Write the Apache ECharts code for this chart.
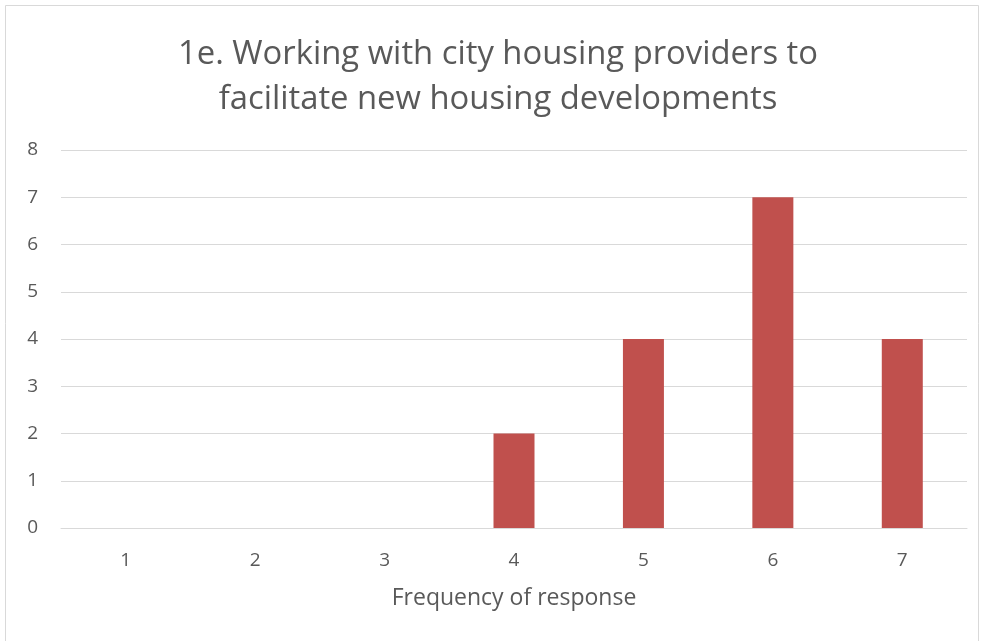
<!DOCTYPE html>
<html>
<head>
<meta charset="utf-8">
<script src="https://cdn.jsdelivr.net/npm/echarts@6/dist/echarts.min.js"></script>
<style>
  html, body { margin: 0; padding: 0; background: #fff; }
  #main { width: 982px; height: 641px; }
</style>
</head>
<body>
<div id="main"></div>
<script>
  // data
  var categories = ['1', '2', '3', '4', '5', '6', '7'];
  var counts = [0, 0, 0, 2, 4, 7, 4];
  var yTicks = [0, 8, 1]; // min, max, step

  var chart = echarts.init(document.getElementById('main'));

  chart.setOption({
    backgroundColor: '#fff',
    animation: false,
    title: {
      text: '1e. Working with city housing providers to\nfacilitate new housing developments',
      left: 498,
      textAlign: 'center',
      top: 32,
      padding: 0,
      textStyle: {
        fontFamily: 'Open Sans',
        fontWeight: 'normal',
        fontSize: 32.8,
        lineHeight: 45,
        color: '#595959'
      }
    },
    graphic: [{
      type: 'rect',
      shape: { x: 5.5, y: 5.5, width: 973, height: 640 },
      style: { fill: 'none', stroke: '#d9d9d9', lineWidth: 1 },
      silent: true
    }],
    grid: { left: 61, right: 15, top: 150, bottom: 113 },
    xAxis: {
      type: 'category',
      data: categories,
      name: 'Frequency of response',
      nameLocation: 'middle',
      nameGap: 59,
      nameTextStyle: { fontFamily: 'Open Sans', fontSize: 23, color: '#595959' },
      axisLine: { show: true, lineStyle: { color: '#d9d9d9', width: 1 } },
      axisTick: { show: false },
      axisLabel: { fontFamily: 'Open Sans', fontSize: 19, color: '#595959', margin: 23 }
    },
    yAxis: {
      type: 'value',
      min: yTicks[0],
      max: yTicks[1],
      interval: yTicks[2],
      axisLine: { show: false },
      axisTick: { show: false },
      axisLabel: { fontFamily: 'Open Sans', fontSize: 19, color: '#595959', margin: 23 },
      splitLine: { lineStyle: { color: '#d9d9d9', width: 1 } }
    },
    series: [{
      type: 'bar',
      data: counts,
      barWidth: 41,
      itemStyle: { color: '#c0504d' }
    }]
  });
</script>
</body>
</html>
